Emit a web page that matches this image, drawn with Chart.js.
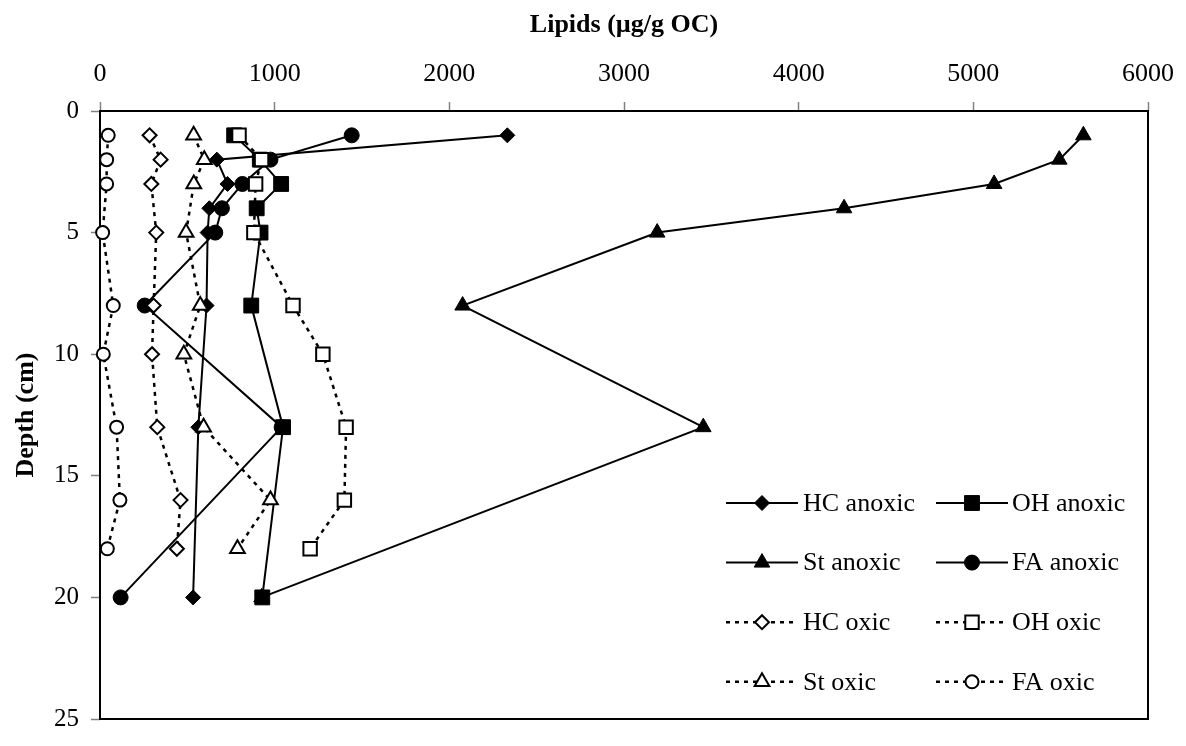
<!DOCTYPE html>
<html>
<head>
<meta charset="utf-8">
<script src="https://cdn.jsdelivr.net/npm/chart.js@4.4.1/dist/chart.umd.min.js"></script>
<style>
  html, body { margin: 0; padding: 0; background: #ffffff; }
  #wrap { width: 1186px; height: 746px; }
</style>
</head>
<body>
<div id="wrap"><canvas id="c" width="1186" height="746"></canvas></div>
<script>
// Sampling depths (cm)
const depthsAnoxic = [1, 2, 3, 4, 5, 8, 13, 20];
const depthsOxic   = [1, 2, 3, 5, 8, 10, 13, 16, 18];

// Lipid concentrations (µg/g OC), anoxic core
const hcAnoxic = [2332, 669, 730, 626, 616, 610, 563, 533];
const ohAnoxic = [768, 915, 1037, 897, 919, 866, 1048, 929];
const stAnoxic = [5630, 5492, 5119, 4260, 3190, 2076, 3454, 925];
const faAnoxic = [1441, 976, 815, 698, 660, 256, 1040, 118];

// Lipid concentrations (µg/g OC), oxic core
const hcOxic = [284, 347, 294, 322, 307, 298, 328, 461, 440];
const ohOxic = [796, 925, 891, 881, 1105, 1276, 1409, 1399, 1203];
const stOxic = [536, 597, 537, 493, 574, 480, 593, 976, 787];
const faOxic = [47, 38, 38, 15, 76, 19, 95, 114, 42];

// Axis ticks
const xTicks = [0, 1000, 2000, 3000, 4000, 5000, 6000];
const yTicks = [0, 5, 10, 15, 20, 25];

const seriesLabels = ['HC anoxic', 'OH anoxic', 'St anoxic', 'FA anoxic',
                      'HC oxic', 'OH oxic', 'St oxic', 'FA oxic'];

const FONT = "'Liberation Serif', 'Times New Roman', serif";

function series(label, depths, values, style, oxic, radius) {
  return {
    label: label,
    data: depths.map((d, i) => ({ x: values[i], y: d })),
    showLine: true,
    borderColor: '#000000',
    borderWidth: oxic ? 2.5 : 2,
    borderDash: oxic ? [4, 5] : [],
    pointStyle: style,
    pointRadius: radius,
    pointHoverRadius: radius,
    pointBackgroundColor: oxic ? '#ffffff' : '#000000',
    pointBorderColor: '#000000',
    pointBorderWidth: oxic ? 2 : 1,
    tension: 0,
    fill: false,
    clip: false,
    order: oxic ? 1 : 2
  };
}

const datasets = [
  series(seriesLabels[0], depthsAnoxic, hcAnoxic, 'rectRot', false, 7.5),
  series(seriesLabels[1], depthsAnoxic, ohAnoxic, 'rect', false, 10.5),
  series(seriesLabels[2], depthsAnoxic, stAnoxic, 'triangle', false, 9),
  series(seriesLabels[3], depthsAnoxic, faAnoxic, 'circle', false, 7.5),
  series(seriesLabels[4], depthsOxic, hcOxic, 'rectRot', true, 7),
  series(seriesLabels[5], depthsOxic, ohOxic, 'rect', true, 9.5),
  series(seriesLabels[6], depthsOxic, stOxic, 'triangle', true, 8.5),
  series(seriesLabels[7], depthsOxic, faOxic, 'circle', true, 6.5)
];

// Box around the plot area, drawn under the series
const frame = {
  id: 'frame',
  beforeDatasetsDraw(chart) {
    const a = chart.chartArea, ctx = chart.ctx;
    ctx.save();
    ctx.strokeStyle = '#000000';
    ctx.lineWidth = 2;
    ctx.strokeRect(a.left, a.top, a.right - a.left, a.bottom - a.top);
    ctx.restore();
  }
};

// Two-column legend with line + marker samples
const gridLegend = {
  id: 'gridLegend',
  afterDraw(chart) {
    const ctx = chart.ctx;
    const markerX = [762, 972];
    const textX = [803, 1012];
    const rowY0 = 503, rowStep = 59.6, half = 36;
    chart.data.datasets.forEach((ds, i) => {
      const col = i % 2, row = Math.floor(i / 2);
      const cx = markerX[col], cy = rowY0 + row * rowStep;
      ctx.save();
      ctx.strokeStyle = ds.borderColor;
      ctx.lineWidth = ds.borderWidth;
      ctx.setLineDash(ds.borderDash);
      ctx.beginPath();
      ctx.moveTo(cx - half, cy);
      ctx.lineTo(cx + half, cy);
      ctx.stroke();
      ctx.setLineDash([]);
      ctx.fillStyle = ds.pointBackgroundColor;
      ctx.strokeStyle = ds.pointBorderColor;
      ctx.lineWidth = ds.pointBorderWidth;
      Chart.helpers.drawPoint(ctx, {
        pointStyle: ds.pointStyle,
        radius: ds.pointRadius,
        borderWidth: ds.pointBorderWidth,
        rotation: 0
      }, cx, cy);
      ctx.fillStyle = '#000000';
      ctx.font = '26px ' + FONT;
      ctx.textAlign = 'left';
      ctx.textBaseline = 'middle';
      ctx.fillText(ds.label, textX[col], cy + 1);
      ctx.restore();
    });
  }
};

new Chart(document.getElementById('c'), {
  type: 'scatter',
  data: { datasets: datasets },
  options: {
    responsive: false,
    animation: false,
    events: [],
    layout: { padding: { left: 0, top: 0, right: 31, bottom: 11 } },
    plugins: {
      legend: { display: false },
      tooltip: { enabled: false }
    },
    scales: {
      x: {
        type: 'linear',
        position: 'top',
        min: 0,
        max: 6000,
        afterBuildTicks: (s) => { s.ticks = xTicks.map(v => ({ value: v })); },
        afterFit: (s) => { s.height = 111; },
        ticks: {
          color: '#000000',
          padding: 12,
          font: { family: FONT, size: 26 },
          callback: (v) => String(v)
        },
        grid: {
          drawOnChartArea: false,
          drawTicks: true,
          tickLength: 9,
          tickColor: '#808080',
          tickWidth: 1.5
        },
        border: { display: false },
        title: {
          display: true,
          text: 'Lipids (µg/g OC)',
          color: '#000000',
          font: { family: FONT, size: 26, weight: 'bold' },
          padding: { top: 10, bottom: 0 }
        }
      },
      y: {
        type: 'linear',
        position: 'left',
        reverse: true,
        min: 0,
        max: 25,
        afterBuildTicks: (s) => { s.ticks = yTicks.map(v => ({ value: v })); },
        afterFit: (s) => { s.width = 100; },
        ticks: {
          color: '#000000',
          padding: 12,
          font: { family: FONT, size: 25 },
          callback: (v) => String(v)
        },
        grid: {
          drawOnChartArea: false,
          drawTicks: true,
          tickLength: 9,
          tickColor: '#808080',
          tickWidth: 1.5
        },
        border: { display: false },
        title: {
          display: true,
          text: 'Depth (cm)',
          color: '#000000',
          font: { family: FONT, size: 26, weight: 'bold' },
          padding: { top: 11, bottom: 0 }
        }
      }
    }
  },
  plugins: [frame, gridLegend]
});
</script>
</body>
</html>
